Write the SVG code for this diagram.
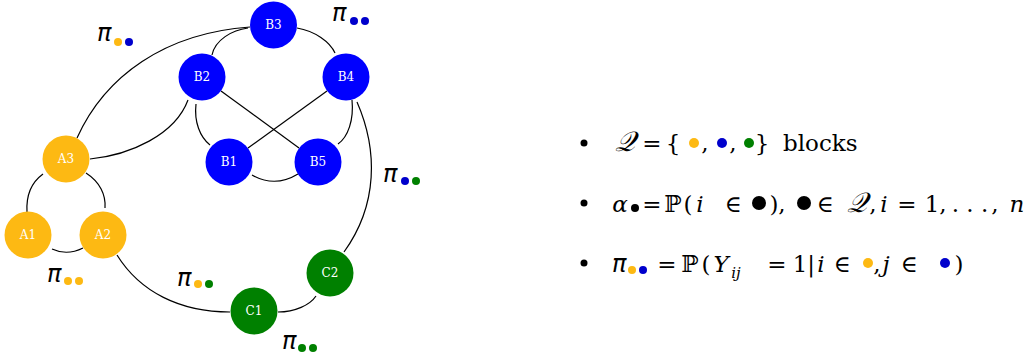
<svg xmlns="http://www.w3.org/2000/svg" width="1035" height="356" viewBox="0 0 1035 356">
<style>
.n circle{stroke:none}
.y{fill:#FDB913}
.b{fill:#0000FF}
.g{fill:#008000}
.lbl{font-family:"DejaVu Serif",serif;font-size:12px;fill:#ffffff;text-anchor:middle;dominant-baseline:central}
.e path{fill:none;stroke:#000;stroke-width:1.2}
.pi{font-family:"DejaVu Sans",sans-serif;font-style:italic;font-size:24px;fill:#000}
.m{font-family:"DejaVu Serif",serif;font-size:23px;fill:#000;text-anchor:middle}
.i{font-style:italic}
.q{font-size:28px}
.dy{fill:#FDB913}
.db{fill:#0000CC}
.dg{fill:#008000}
</style>
<g id="connectors" class="e">
<path d="M77,138 C105,76 165,33 250,27"/>
<path d="M90,159 C130,155 175,135 188,100"/>
<path d="M248,28 C232,30 215,40 212,55"/>
<path d="M297,28 C315,31 330,42 335,53"/>
<path d="M221,91 L299,148"/>
<path d="M327,91 L248,148"/>
<path d="M196,104 C194,122 200,137 210,145"/>
<path d="M352,100 C354,120 348,137 338,144"/>
<path d="M252,175 Q275,188 298,174"/>
<path d="M357,102 C378,150 378,205 344,252"/>
<path d="M43,174 C32,182 26,195 27,212"/>
<path d="M86,173 C100,182 106,195 105,208"/>
<path d="M52,249 Q67,256 83,248"/>
<path d="M117,255 C140,292 180,312 230,312"/>
<path d="M278,312 C295,312 310,305 316,296"/>
</g>
<g id="B3" class="n"><circle class="b" cx="273.5" cy="25" r="23.5"/><text class="lbl" x="273.5" y="25">B3</text></g>
<g id="B2" class="n"><circle class="b" cx="202" cy="77" r="23.5"/><text class="lbl" x="202" y="77">B2</text></g>
<g id="B4" class="n"><circle class="b" cx="346" cy="77" r="23.5"/><text class="lbl" x="346" y="77">B4</text></g>
<g id="B1" class="n"><circle class="b" cx="229" cy="162" r="23.5"/><text class="lbl" x="229" y="162">B1</text></g>
<g id="B5" class="n"><circle class="b" cx="318" cy="162" r="23.5"/><text class="lbl" x="318" y="162">B5</text></g>
<g id="A3" class="n"><circle class="y" cx="66" cy="159" r="23.5"/><text class="lbl" x="66" y="159">A3</text></g>
<g id="A1" class="n"><circle class="y" cx="28" cy="235" r="23.5"/><text class="lbl" x="28" y="235">A1</text></g>
<g id="A2" class="n"><circle class="y" cx="103" cy="235" r="23.5"/><text class="lbl" x="103" y="235">A2</text></g>
<g id="C1" class="n"><circle class="g" cx="254" cy="311" r="23.5"/><text class="lbl" x="254" y="311">C1</text></g>
<g id="C2" class="n"><circle class="g" cx="330" cy="273" r="23.5"/><text class="lbl" x="330" y="273">C2</text></g>
<g id="edge-labels">
<text class="pi" x="97" y="41">π</text><circle class="dy" cx="118" cy="42" r="4"/><circle class="db" cx="129" cy="42" r="4"/>
<text class="pi" x="332" y="21">π</text><circle class="db" cx="354" cy="21" r="4"/><circle class="db" cx="365" cy="21" r="4"/>
<text class="pi" x="383" y="182">π</text><circle class="db" cx="405" cy="181" r="4"/><circle class="dg" cx="416" cy="181" r="4"/>
<text class="pi" x="47" y="282">π</text><circle class="dy" cx="68" cy="281" r="4"/><circle class="dy" cx="79" cy="281" r="4"/>
<text class="pi" x="177" y="286">π</text><circle class="dy" cx="198" cy="284" r="4"/><circle class="dg" cx="209" cy="284" r="4"/>
<text class="pi" x="282" y="349">π</text><circle class="dg" cx="302" cy="348" r="4"/><circle class="dg" cx="313" cy="348" r="4"/>
</g>
<g id="legend">
<circle cx="584" cy="143" r="3.5"/>
<circle cx="584" cy="203" r="3.5"/>
<circle cx="584" cy="263" r="3.5"/>
<text class="m i q" x="625" y="151">𝒬</text>
<text class="m" y="151"><tspan x="652">=</tspan><tspan x="673">{</tspan><tspan x="705">,</tspan><tspan x="733">,</tspan><tspan x="762">}</tspan></text>
<text class="m" x="783" y="151" style="text-anchor:start">blocks</text>
<circle class="dy" cx="694" cy="143" r="5"/><circle class="db" cx="722" cy="143" r="5"/><circle class="dg" cx="749" cy="143" r="5"/>
<text class="m" y="212"><tspan x="620" class="i">α</tspan><tspan x="652">=</tspan><tspan x="673">ℙ</tspan><tspan x="688">(</tspan><tspan x="700" class="i">i</tspan><tspan x="733">∈</tspan><tspan x="774">)</tspan><tspan x="782">,</tspan><tspan x="825">∈</tspan><tspan x="857" class="i q">𝒬</tspan><tspan x="873">,</tspan><tspan x="884" class="i">i</tspan><tspan x="907">=</tspan><tspan x="932">1</tspan><tspan x="943">,</tspan><tspan x="970">. . .</tspan><tspan x="995">,</tspan><tspan x="1017" class="i">n</tspan></text>
<circle cx="635" cy="208" r="4"/><circle cx="759" cy="203" r="7"/><circle cx="804" cy="203" r="7"/>
<text class="pi" x="612" y="272">π</text>
<text class="m" y="272"><tspan x="667">=</tspan><tspan x="690">ℙ</tspan><tspan x="706">(</tspan><tspan x="721" class="i">Y</tspan><tspan x="736" dy="6" class="i" style="font-size:15px">ij</tspan><tspan x="777" dy="-6">=</tspan><tspan x="800">1</tspan><tspan x="811">|</tspan><tspan x="821" class="i">i</tspan><tspan x="842">∈</tspan><tspan x="877">,</tspan><tspan x="886" class="i">j</tspan><tspan x="909">∈</tspan><tspan x="959">)</tspan></text>
<circle class="dy" cx="632" cy="270" r="4"/><circle class="db" cx="643" cy="270" r="4"/>
<circle class="dy" cx="868" cy="263" r="5"/><circle class="db" cx="945" cy="263" r="5"/>
</g>
</svg>
